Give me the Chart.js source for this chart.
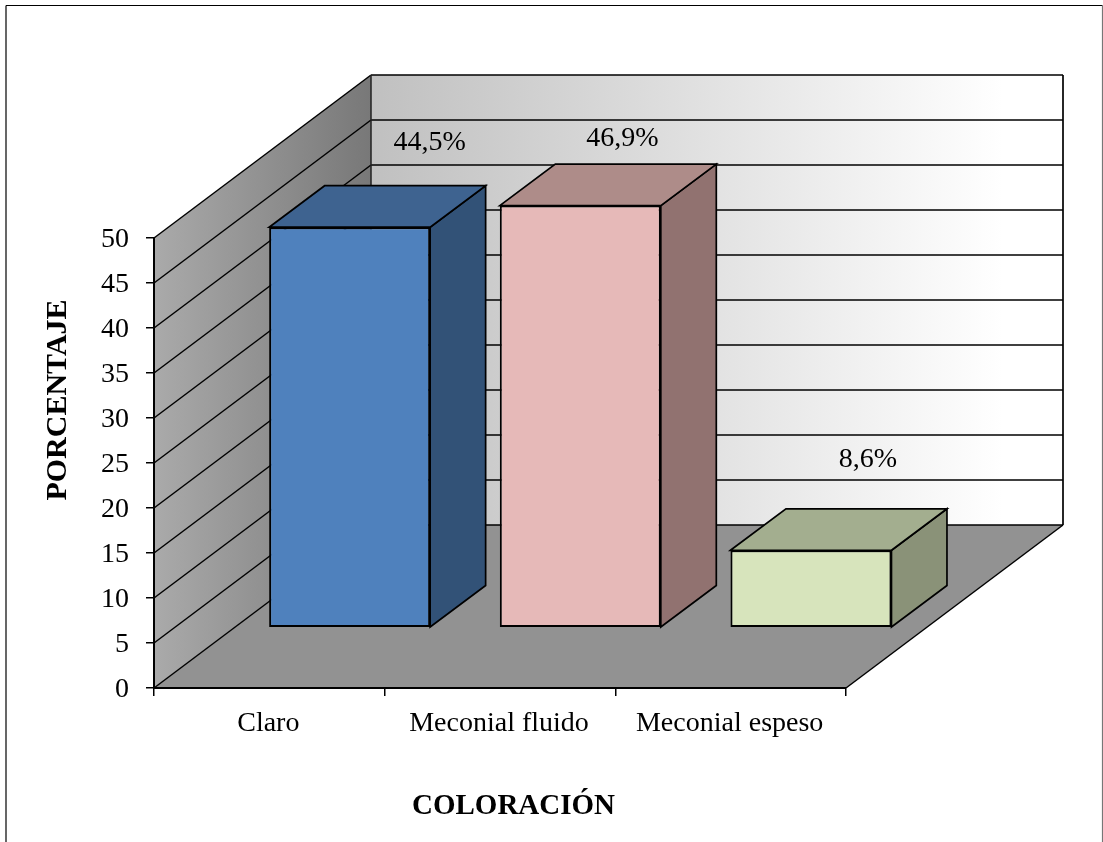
<!DOCTYPE html>
<html lang="es">
<head>
<meta charset="utf-8">
<title>Coloración</title>
<script src="https://cdn.jsdelivr.net/npm/chart.js@4"></script>
<style>
  html, body { margin: 0; padding: 0; background: #fff; overflow: hidden; }
  canvas { display: block; }
</style>
</head>
<body>
<canvas id="chart" width="1103" height="842"></canvas>
<script>
const categories = ['Claro', 'Meconial fluido', 'Meconial espeso'];
const percentages = [44.5, 46.9, 8.6];
const valueLabels = ['44,5%', '46,9%', '8,6%'];
const frontColors = ['#4F81BD', '#E6B9B8', '#D7E4BC'];
const topColors = ['#3E6390', '#AE8C89', '#A3AE8F'];
const sideColors = ['#325277', '#917270', '#8A9278'];

const SERIF = '"Liberation Serif", "Times New Roman", serif';
const FONT_SIZE = 28;
const TITLE_SIZE = 29;

// full depth of the box, where the bars start inside it, and how deep they are
const DEPTH = { x: 217, y: -163 };
const BAR_SHIFT = { x: 80.3, y: -60.3 };
const BAR_DEPTH = { x: 55.5, y: -41.5 };

// where each value label sits relative to the top centre of its bar
const LABEL_SHIFT = [[80, -85], [42, -67], [57, -91]];

function fillPoly(ctx, points, fill, stroke, lineWidth) {
  ctx.beginPath();
  points.forEach((p, i) => (i ? ctx.lineTo(p[0], p[1]) : ctx.moveTo(p[0], p[1])));
  ctx.closePath();
  if (fill) {
    ctx.fillStyle = fill;
    ctx.fill();
  }
  if (stroke) {
    ctx.strokeStyle = stroke;
    ctx.lineWidth = lineWidth;
    ctx.stroke();
  }
}

function line(ctx, x1, y1, x2, y2, color, lineWidth) {
  ctx.beginPath();
  ctx.moveTo(x1, y1);
  ctx.lineTo(x2, y2);
  ctx.strokeStyle = color;
  ctx.lineWidth = lineWidth;
  ctx.stroke();
}

// Page frame, walls, floor and the grid running round them
const boxPlugin = {
  id: 'box',
  beforeDraw(chart) {
    const { ctx, chartArea: a, scales: { y } } = chart;
    const d = DEPTH;

    ctx.save();
    ctx.fillStyle = '#fff';
    ctx.fillRect(0, 0, chart.width, chart.height);

    line(ctx, 6, 842, 6, 5.5, '#000', 1.2);
    line(ctx, 6, 5.5, 1102.5, 5.5, '#000', 1.2);
    line(ctx, 1102.5, 5.5, 1102.5, 842, '#777', 1.2);

    const leftWall = ctx.createLinearGradient(a.left, 0, a.left + d.x, 0);
    leftWall.addColorStop(0, '#AAAAAA');
    leftWall.addColorStop(1, '#787878');
    fillPoly(ctx, [
      [a.left, a.top], [a.left + d.x, a.top + d.y],
      [a.left + d.x, a.bottom + d.y], [a.left, a.bottom]
    ], leftWall);

    const backWall = ctx.createLinearGradient(a.left + d.x, 0, a.right + d.x - 60, 0);
    backWall.addColorStop(0, '#C0C0C0');
    backWall.addColorStop(1, '#FFFFFF');
    fillPoly(ctx, [
      [a.left + d.x, a.top + d.y], [a.right + d.x, a.top + d.y],
      [a.right + d.x, a.bottom + d.y], [a.left + d.x, a.bottom + d.y]
    ], backWall);

    fillPoly(ctx, [
      [a.left, a.bottom], [a.right, a.bottom],
      [a.right + d.x, a.bottom + d.y], [a.left + d.x, a.bottom + d.y]
    ], '#929292');

    y.ticks.forEach((t, i) => {
      const py = y.getPixelForTick(i);
      line(ctx, a.left, py, a.left + d.x, py + d.y, '#000', 1.5);
      line(ctx, a.left + d.x, py + d.y, a.right + d.x, py + d.y, '#000', 1.7);
    });

    line(ctx, a.left + d.x, a.top + d.y, a.left + d.x, a.bottom + d.y, '#222', 1.5);
    line(ctx, a.right + d.x, a.top + d.y, a.right + d.x, a.bottom + d.y, '#000', 1.7);
    line(ctx, a.right, a.bottom, a.right + d.x, a.bottom + d.y, '#000', 1.5);
    ctx.restore();
  }
};

// Bars sit part way into the box: shift them and add top and side faces
const barsPlugin = {
  id: 'bars3d',
  beforeDatasetsDraw(chart) {
    const { ctx } = chart;
    const s = BAR_DEPTH;
    ctx.save();
    ctx.translate(BAR_SHIFT.x, BAR_SHIFT.y);
    chart.getDatasetMeta(0).data.forEach((bar, i) => {
      const left = bar.x - bar.width / 2;
      const right = bar.x + bar.width / 2;
      fillPoly(ctx, [
        [right, bar.y], [right + s.x, bar.y + s.y],
        [right + s.x, bar.base + s.y], [right, bar.base]
      ], sideColors[i], '#000', 1.7);
      fillPoly(ctx, [
        [left, bar.y], [left + s.x, bar.y + s.y],
        [right + s.x, bar.y + s.y], [right, bar.y]
      ], topColors[i], '#000', 1.7);
    });
  },
  afterDatasetsDraw(chart) {
    const { ctx } = chart;
    ctx.restore();

    ctx.save();
    ctx.fillStyle = '#000';
    ctx.textAlign = 'center';
    ctx.textBaseline = 'middle';
    ctx.font = FONT_SIZE + 'px ' + SERIF;
    chart.getDatasetMeta(0).data.forEach((bar, i) => {
      ctx.fillText(
        valueLabels[i],
        bar.x + BAR_SHIFT.x + LABEL_SHIFT[i][0],
        bar.y + BAR_SHIFT.y + LABEL_SHIFT[i][1]
      );
    });

    // axis titles
    ctx.font = 'bold ' + TITLE_SIZE + 'px ' + SERIF;
    ctx.fillText('COLORACIÓN', 513.5, 807);
    ctx.translate(58, 400);
    ctx.rotate(-Math.PI / 2);
    ctx.font = 'bold 30px ' + SERIF;
    ctx.fillText('PORCENTAJE', 0, 0);
    ctx.restore();
  }
};

new Chart(document.getElementById('chart'), {
  type: 'bar',
  data: {
    labels: categories,
    datasets: [{
      data: percentages,
      backgroundColor: frontColors,
      borderColor: '#000',
      borderWidth: 2,
      borderSkipped: false,
      barPercentage: 1,
      categoryPercentage: 0.698,
      clip: false
    }]
  },
  options: {
    responsive: false,
    animation: false,
    layout: { padding: { top: 238, right: 257, bottom: 0, left: 0 } },
    plugins: { legend: { display: false }, tooltip: { enabled: false } },
    scales: {
      x: {
        offset: true,
        afterFit(scale) { scale.height = 154; },
        border: { color: '#000', width: 2 },
        grid: { drawOnChartArea: false, color: '#000', tickLength: 8, lineWidth: 1.5 },
        ticks: { color: '#000', padding: 11, labelOffset: -1, maxRotation: 0, font: { family: SERIF, size: FONT_SIZE } }
      },
      y: {
        min: 0,
        max: 50,
        afterFit(scale) { scale.width = 154; },
        border: { color: '#000', width: 2 },
        grid: { drawOnChartArea: false, color: '#000', tickLength: 8, lineWidth: 1.5 },
        ticks: { color: '#000', stepSize: 5, padding: 17, labelOffset: 2, font: { family: SERIF, size: FONT_SIZE } }
      }
    }
  },
  plugins: [boxPlugin, barsPlugin]
});
</script>
</body>
</html>
